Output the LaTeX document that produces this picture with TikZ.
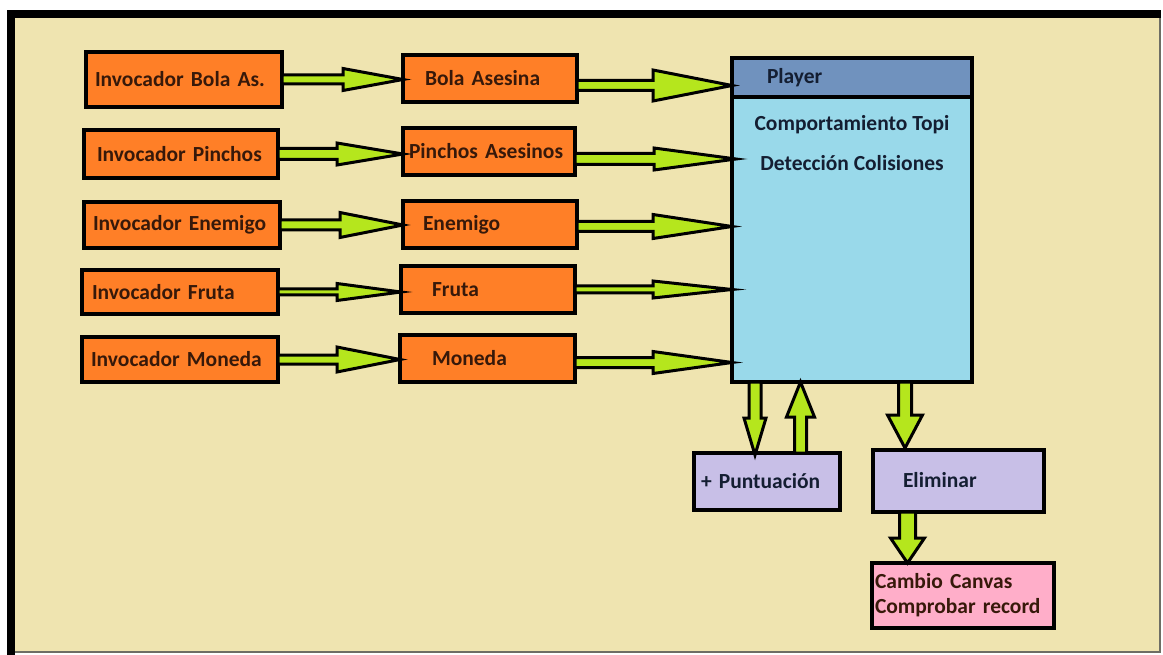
\documentclass[tikz,border=0pt]{standalone}
\usepackage{fontspec}
\setmainfont{Carlito}
\usetikzlibrary{calc}
\definecolor{beige}{HTML}{EFE4B0}
\definecolor{orangebg}{HTML}{FF7F27}
\definecolor{limeg}{HTML}{B5E61D}
\definecolor{turq}{HTML}{99D9EA}
\definecolor{bluegray}{HTML}{7092BE}
\definecolor{lavender}{HTML}{C8BFE7}
\definecolor{pinkbg}{HTML}{FFAEC9}
\definecolor{txtbrown}{RGB}{55,25,10}
\definecolor{txtnavy}{RGB}{20,30,50}
\definecolor{framegray}{RGB}{110,110,100}
\tikzset{
  box/.style={draw=black, line width=3.5pt, rectangle, inner ysep=0pt, outer sep=0pt,
    anchor=north west, align=left, font=\fontsize{21.5}{24}\selectfont\bfseries},
  obox/.style={box, fill=orangebg, text=txtbrown},
  lbox/.style={box, fill=lavender, text=txtnavy},
  blockarr/.style={draw=black, line width=3pt, fill=limeg, line join=miter, miter limit=20},
}
% horizontal block arrow: start, end, shaft half, head half, head length
\newcommand{\harrow}[5]{%
  \draw[blockarr] let \p1=#1, \p2=#2 in
    (\x1,\y1-#3pt) -- (\x2-#5pt,\y1-#3pt) -- (\x2-#5pt,\y1-#4pt) -- (\x2,\y1)
    -- (\x2-#5pt,\y1+#4pt) -- (\x2-#5pt,\y1+#3pt) -- (\x1,\y1+#3pt) -- cycle;}
% downward block arrow
\newcommand{\darrow}[5]{%
  \draw[blockarr] let \p1=#1, \p2=#2 in
    (\x1-#3pt,\y1) -- (\x1-#3pt,\y2+#5pt) -- (\x1-#4pt,\y2+#5pt) -- (\x1,\y2)
    -- (\x1+#4pt,\y2+#5pt) -- (\x1+#3pt,\y2+#5pt) -- (\x1+#3pt,\y1) -- cycle;}
% upward block arrow
\newcommand{\uarrow}[5]{%
  \draw[blockarr] let \p1=#1, \p2=#2 in
    (\x1-#3pt,\y1) -- (\x1-#3pt,\y2-#5pt) -- (\x1-#4pt,\y2-#5pt) -- (\x1,\y2)
    -- (\x1+#4pt,\y2-#5pt) -- (\x1+#3pt,\y2-#5pt) -- (\x1+#3pt,\y1) -- cycle;}
\begin{document}
\begin{tikzpicture}[x=1pt,y=-1pt]
\useasboundingbox (0,0) rectangle (1163,655);
\fill[white] (0,0) rectangle (1163,655);
% frame
\fill[beige] (15,18) rectangle (1160,652);
\draw[framegray, line width=1.5pt] (15,652) -- (1160,652) -- (1160,18);
\fill[black] (7,10) rectangle (1161,18);
\fill[black] (7,10) rectangle (15,655);

% left column
\node[obox, inner xsep=9pt, text width=178pt, minimum height=55pt] (inv1) at (86,52) {Invocador Bola As.};
\node[obox, inner xsep=13pt, text width=168pt, minimum height=48pt] (inv2) at (84,130) {Invocador Pinchos};
\node[obox, inner xsep=9pt, text width=178pt, minimum height=46pt] (inv3) at (84,202) {Invocador Enemigo};
\node[obox, inner xsep=10pt, text width=176pt, minimum height=44pt] (inv4) at (82,270) {Invocador Fruta};
\node[obox, inner xsep=9pt, text width=178pt, minimum height=45pt] (inv5) at (82,337) {Invocador Moneda};

% middle column
\node[obox, inner xsep=22pt, text width=130pt, minimum height=47pt] (bola) at (403,55) {Bola Asesina};
\node[obox, inner xsep=6pt, text width=160pt, minimum height=47pt] (pinchos) at (403,128) {Pinchos Asesinos};
\node[obox, inner xsep=20pt, text width=134pt, minimum height=47pt] (enemigo) at (403,201) {Enemigo};
\node[obox, inner xsep=31pt, text width=112pt, minimum height=47pt] (fruta) at (401,266) {Fruta};
\node[obox, inner xsep=32pt, text width=111pt, minimum height=47pt] (moneda) at (400,335) {Moneda};

% player
\node[box, fill=turq, inner xsep=0pt, minimum width=240pt, minimum height=285pt] (body) at (732,97) {};
\node[box, fill=bluegray, text=txtnavy, inner xsep=35pt, text width=170pt, minimum height=39pt] (player) at (732,58) {Player};
\node[anchor=north, align=center, text=txtnavy, inner sep=0pt,
  font=\fontsize{21.5}{40}\selectfont\bfseries] (bodytext) at ([yshift=-18pt]body.north) {Comportamiento Topi\\Detección Colisiones};

% bottom boxes
\node[lbox, inner xsep=7pt, text width=132pt, minimum height=57pt] (pun) at (694,453) {+ Puntuación};
\node[lbox, inner xsep=30pt, text width=111pt, minimum height=62pt] (elim) at (873,450) {\raisebox{3pt}{Eliminar}};
\node[box, fill=pinkbg, text=txtbrown, inner xsep=3pt, text width=176pt, minimum height=65pt,
  font=\fontsize{21.5}{25}\selectfont\bfseries] (cambio) at (872,563) {Cambio Canvas\\Comprobar record};

% arrows left -> middle
\harrow{(inv1.east)}{(bola.west)}{4.5}{11}{60}
\harrow{(inv2.east)}{(pinchos.west)}{5.5}{11}{66}
\harrow{(inv3.east)}{(enemigo.west)}{5}{12.5}{63}
\harrow{(inv4.east)}{(fruta.west)}{3}{8.5}{64}
\harrow{(inv5.east)}{(moneda.west)}{4.5}{12.5}{63}

% arrows middle -> player
\harrow{([yshift=-7pt]bola.east)}{(body.west)}{5}{15.5}{79}
\harrow{([yshift=-7.5pt]pinchos.east)}{([xshift=4pt]body.west)}{5.5}{11}{82}
\harrow{([yshift=-2pt]enemigo.east)}{(body.west)}{5}{12}{79}
\harrow{(fruta.east)}{(body.west)}{3.5}{8.5}{79}
\harrow{([yshift=-4pt]moneda.east)}{(body.west)}{5}{11}{79}

% vertical arrows
\darrow{([xshift=-12pt]pun.north |- body.south)}{([xshift=-12pt,yshift=-2pt]pun.north)}{6}{11}{37}
\uarrow{([xshift=33.5pt]pun.north)}{([xshift=33.5pt]pun.north |- body.south)}{6}{14}{35}
\darrow{([xshift=-53.5pt]elim.north |- body.south)}{([xshift=-53.5pt,yshift=2pt]elim.north)}{6.5}{17.5}{33}
\darrow{([xshift=-55.5pt]elim.south -| cambio.north)}{([xshift=-55.5pt]cambio.north)}{8}{17}{25}
\end{tikzpicture}
\end{document}
